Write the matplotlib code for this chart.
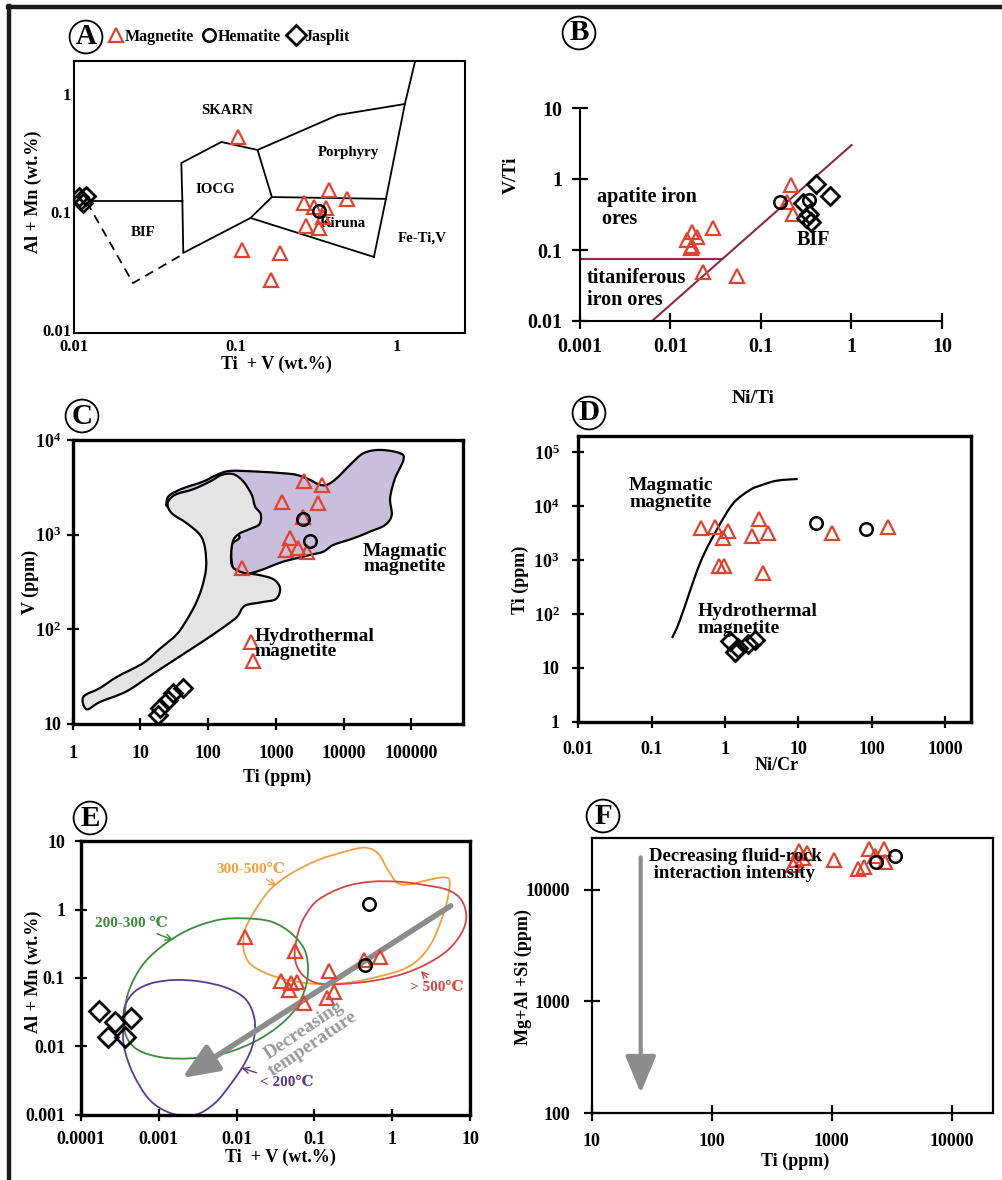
import numpy as np
import matplotlib
matplotlib.use('Agg')
import matplotlib.pyplot as plt
import matplotlib.transforms as mtransforms
from matplotlib.path import Path
from matplotlib.patches import PathPatch
from matplotlib.lines import Line2D
from matplotlib.ticker import FixedLocator, FixedFormatter, NullLocator

plt.rcParams['font.family'] = ['Liberation Serif', 'DejaVu Serif', 'DejaVu Sans']
plt.rcParams['font.weight'] = 'bold'
plt.rcParams['axes.labelweight'] = 'bold'
plt.rcParams['mathtext.fontset'] = 'custom'
plt.rcParams['mathtext.rm'] = 'Liberation Serif:bold'
plt.rcParams['mathtext.it'] = 'Liberation Serif:bold'
plt.rcParams['mathtext.bf'] = 'Liberation Serif:bold'

RED = '#E0432F'
# ---------------- Panel A data ----------------
A_mag_x = [0.103, 0.378, 0.489, 0.265, 0.307, 0.362, 0.346, 0.272, 0.327, 0.110, 0.188, 0.167]
A_mag_y = [0.458, 0.163, 0.137, 0.126, 0.117, 0.115, 0.096, 0.081, 0.078, 0.0505, 0.0477, 0.0281]
A_hem_x = [0.327]
A_hem_y = [0.108]
A_jas_x = [0.0108, 0.0118, 0.0113, 0.0111]
A_jas_y = [0.142, 0.146, 0.127, 0.135]
A_field_lines = [
    ([0.0126, 0.0469], [0.131, 0.131]),
    ([0.0469, 0.0462, 0.0818, 0.137, 0.168, 0.124, 0.0475, 0.0469],
     [0.131, 0.276, 0.416, 0.356, 0.142, 0.0944, 0.0477, 0.131]),
    ([0.137, 0.431, 1.12, 1.30], [0.356, 0.704, 0.873, 2.05]),
    ([1.12, 0.855, 0.72], [0.873, 0.137, 0.0441]),
    ([0.168, 0.855], [0.142, 0.137]),
    ([0.124, 0.72], [0.0944, 0.0441]),
]
A_dash_x = [0.0120, 0.0232, 0.0475]
A_dash_y = [0.129, 0.0265, 0.0467]
A_fields = ['SKARN', 'IOCG', 'BIF', 'Porphyry', 'Kiruna', 'Fe-Ti,V']
A_field_x = [0.089, 0.0752, 0.0268, 0.497, 0.462, 1.43]
A_field_y = [0.776, 0.166, 0.0704, 0.342, 0.0855, 0.0638]

# ---------------- Panel B data ----------------
B_mag_x = [0.214, 0.194, 0.226, 0.0295, 0.0173, 0.0195, 0.0151, 0.0168, 0.0172, 0.0229, 0.0543]
B_mag_y = [0.82, 0.474, 0.32, 0.204, 0.179, 0.152, 0.138, 0.107, 0.115, 0.049, 0.043]
B_hem_x = [0.162, 0.34]
B_hem_y = [0.474, 0.50]
B_jas_x = [0.405, 0.58, 0.29, 0.315, 0.36, 0.34]
B_jas_y = [0.85, 0.576, 0.46, 0.28, 0.25, 0.32]
B_hline_x = [0.001, 0.037]
B_hline_y = [0.075, 0.075]
B_diag_x = [0.00625, 1.0]
B_diag_y = [0.01, 3.0]

# ---------------- Panel C data (field outlines as log10 values) ----------------
C_hyd_lx = [0.157, 0.403, 0.650, 1.043, 1.290, 1.536, 1.683, 1.807, 1.905, 1.969, 1.954, 1.880,
            1.683, 1.462, 1.403, 1.511, 1.782, 2.028, 2.200, 2.373, 2.520, 2.644, 2.693, 2.777,
            2.757, 2.619, 2.447, 2.358, 2.348, 2.496, 2.742, 2.964, 3.062, 3.003, 2.791, 2.545,
            2.447, 2.373, 2.077, 1.683, 1.191, 0.797, 0.403, 0.206]
C_hyd_ly = [1.282, 1.376, 1.493, 1.641, 1.793, 1.944, 2.096, 2.255, 2.432, 2.643, 2.855, 2.996,
            3.120, 3.226, 3.331, 3.420, 3.480, 3.561, 3.631, 3.638, 3.561, 3.420, 3.296, 3.215,
            3.109, 3.059, 3.003, 2.908, 2.678, 2.601, 2.573, 2.527, 2.432, 2.319, 2.284, 2.248,
            2.149, 2.096, 1.944, 1.758, 1.529, 1.342, 1.229, 1.151]
C_mag_field_lx = [1.388, 1.437, 1.634, 1.930, 2.127, 2.323, 2.717, 3.111, 3.308, 3.505, 3.628,
                  3.751, 3.899, 4.096, 4.293, 4.539, 4.835, 4.884, 4.761, 4.687, 4.711, 4.613,
                  4.392, 4.145, 3.850, 3.702, 3.505, 3.308, 3.111, 2.914, 2.717, 2.520, 2.397,
                  2.348, 2.348, 2.447, 1.930, 1.437]
C_mag_field_ly = [3.349, 3.420, 3.490, 3.561, 3.631, 3.673, 3.666, 3.648, 3.631, 3.578, 3.532,
                  3.525, 3.596, 3.737, 3.860, 3.895, 3.860, 3.789, 3.596, 3.384, 3.207, 3.101,
                  3.031, 2.960, 2.890, 2.819, 2.784, 2.749, 2.714, 2.661, 2.608, 2.580, 2.608,
                  2.714, 2.890, 2.996, 3.173, 3.279]
C_mag_x = [2640, 4760, 1250, 4250, 2550, 1620, 1420, 2150, 2860, 313, 430, 466]
C_mag_y = [3720, 3350, 2230, 2140, 1550, 914, 687, 716, 659, 440, 73.6, 45.9]
C_hem_x = [2550, 3210]
C_hem_y = [1460, 855]
C_jas_x = [41.9, 30.3, 25.6, 19.5, 18.2]
C_jas_y = [23.8, 21.1, 17.8, 14.6, 12.3]

# ---------------- Panel D data ----------------
D_curve_x = [0.190, 0.244, 0.457, 0.773, 1.30, 2.20, 3.01, 5.09, 9.84]
D_curve_y = [35.9, 77.4, 873, 3620, 11300, 20000, 24000, 29700, 32000]
D_mag_x = [0.472, 0.733, 1.09, 0.933, 2.94, 2.32, 3.91, 29.2, 166, 0.84, 0.97, 3.28]
D_mag_y = [3940, 4110, 3470, 2540, 5710, 2800, 3220, 3220, 4170, 777, 777, 569]
D_hem_x = [17.5, 83.4]
D_hem_y = [4940, 3730]
D_jas_x = [1.17, 1.50, 2.06, 2.57, 1.37]
D_jas_y = [31.6, 23.4, 27.8, 32.9, 19.7]

# ---------------- Panel E data (temperature fields as log10 values) ----------------
E_orange_lx = [-1.896, -1.811, -1.704, -1.554, -1.297, -0.954, -0.611, -0.354, -0.183, -0.054, 0.075,
               0.246, 0.460, 0.674, 0.739, 0.709, 0.632, 0.503, 0.332, 0.117, -0.183, -0.525,
               -0.825, -1.082, -1.382, -1.639, -1.832, -1.909, -1.909]
E_orange_ly = [-0.297, -0.102, 0.093, 0.313, 0.532, 0.727, 0.849, 0.908, 0.825, 0.581, 0.386,
               0.376, 0.435, 0.474, 0.411, 0.142, -0.151, -0.492, -0.736, -0.883, -0.981, -1.064,
               -1.088, -1.078, -1.020, -0.922, -0.785, -0.590, -0.419]
E_red_lx = [-1.254, -1.211, -1.125, -0.954, -0.611, -0.268, 0.075, 0.417, 0.717, 0.889, 0.953,
            0.889, 0.717, 0.460, 0.160, -0.183, -0.525, -0.868, -1.082, -1.211]
E_red_ly = [-0.639, -0.346, -0.102, 0.142, 0.337, 0.410, 0.410, 0.361, 0.288, 0.142, -0.102,
            -0.346, -0.590, -0.785, -0.932, -1.029, -1.078, -1.093, -1.020, -0.859]
E_green_lx = [-3.439, -3.396, -3.224, -2.967, -2.625, -2.239, -1.896, -1.554, -1.297, -1.125,
              -1.082, -1.125, -1.254, -1.468, -1.768, -2.153, -2.582, -2.967, -3.267, -3.417]
E_green_ly = [-1.615, -1.225, -0.834, -0.541, -0.298, -0.151, -0.127, -0.175, -0.346, -0.590,
              -0.883, -1.176, -1.469, -1.712, -1.932, -2.103, -2.176, -2.161, -2.054, -1.859]
E_purple_lx = [-3.434, -3.310, -3.096, -2.796, -2.453, -2.111, -1.875, -1.768, -1.789, -1.896,
               -2.068, -2.282, -2.539, -2.839, -3.117, -3.332, -3.447, -3.456]
E_purple_ly = [-1.405, -1.200, -1.078, -1.029, -1.054, -1.151, -1.322, -1.615, -1.957, -2.249,
               -2.542, -2.835, -3.006, -2.982, -2.786, -2.396, -2.006, -1.664]
E_mag_x = [0.0127, 0.0569, 0.0376, 0.0505, 0.0603, 0.0467, 0.0728, 0.154, 0.147, 0.179, 0.690, 0.43]
E_mag_y = [0.403, 0.248, 0.0904, 0.0836, 0.0864, 0.0667, 0.0435, 0.128, 0.0505, 0.0618, 0.205, 0.183]
E_hem_x = [0.503, 0.443]
E_hem_y = [1.21, 0.155]
E_jas_x = [0.000169, 0.000276, 0.000444, 0.000222, 0.000365]
E_jas_y = [0.0332, 0.0224, 0.0257, 0.0138, 0.0138]
E_arrow_start = (5.65, 1.14)
E_arrow_tip = (0.00199, 0.00343)

# ---------------- Panel F data ----------------
F_mag_x = [479, 529, 572, 619, 508, 1040, 1650, 1870, 2040, 2310, 2730, 2790]
F_mag_y = [16700, 22100, 19200, 21100, 18300, 18300, 15200, 16000, 23200, 20100, 23200, 17500]
F_hem_x = [2360, 3370]
F_hem_y = [17500, 20100]
F_arrow_start = (25.6, 19400)
F_arrow_tip = (25.6, 151)

# ================= drawing =================
W, H = 1003, 1180
fig = plt.figure(figsize=(W / 100, H / 100), dpi=100)
fig.patch.set_facecolor('white')


def add_ax(x0, y0, x1, y1):
    return fig.add_axes([x0 / W, 1 - y1 / H, (x1 - x0) / W, (y1 - y0) / H])


def fx(x):
    return x / W


def fy(y):
    return 1 - y / H


def setup(ax, xlim, ylim, xt, xl, yt, yl, fs=13, slw=2.0, tlen=9, xpad=6, ypad=6):
    ax.set_xscale('log')
    ax.set_yscale('log')
    ax.set_xlim(*xlim)
    ax.set_ylim(*ylim)
    ax.xaxis.set_major_locator(FixedLocator(xt))
    ax.xaxis.set_major_formatter(FixedFormatter(xl))
    ax.yaxis.set_major_locator(FixedLocator(yt))
    ax.yaxis.set_major_formatter(FixedFormatter(yl))
    ax.xaxis.set_minor_locator(NullLocator())
    ax.yaxis.set_minor_locator(NullLocator())
    ax.tick_params(which='major', direction='inout', length=tlen, width=1.6, labelsize=fs)
    ax.tick_params(axis='x', pad=xpad)
    ax.tick_params(axis='y', pad=ypad)
    for s in ax.spines.values():
        s.set_linewidth(slw)
    for lab in ax.get_xticklabels() + ax.get_yticklabels():
        lab.set_fontweight('bold')


def smooth_path(lx, ly, closed=True):
    P = np.column_stack([lx, ly]).astype(float)
    n = len(P)
    verts = [P[0]]
    codes = [Path.MOVETO]
    rng = range(n) if closed else range(n - 1)
    for i in rng:
        if closed:
            p0, p1, p2, p3 = P[(i - 1) % n], P[i], P[(i + 1) % n], P[(i + 2) % n]
        else:
            p0 = P[max(i - 1, 0)]
            p1 = P[i]
            p2 = P[i + 1]
            p3 = P[min(i + 2, n - 1)]
        verts += [p1 + (p2 - p0) / 6.0, p2 - (p3 - p1) / 6.0, p2]
        codes += [Path.CURVE4] * 3
    return Path(np.power(10.0, np.array(verts)), codes)


def mag(ax, x, y, ms=9.5):
    ax.plot(x, y, ls='none', marker='^', ms=ms, mfc='none', mec=RED, mew=1.6, zorder=5)


def hem(ax, x, y, ms=9):
    ax.plot(x, y, ls='none', marker='o', ms=ms, mfc='none', mec='black', mew=1.8, zorder=6)


def jas(ax, x, y, ms=9.5):
    ax.plot(x, y, ls='none', marker='D', ms=ms, mfc='none', mec='black', mew=2.0, zorder=6)


def circ(x, y, s):
    fig.text(fx(x), fy(y), s, ha='center', va='center', fontsize=21, fontweight='bold',
             bbox=dict(boxstyle='circle,pad=0.1', fc='none', ec='black', lw=1.3))


# outer frame
fig.add_artist(Line2D([fx(8), 1.0], [fy(7), fy(7)], transform=fig.transFigure, color='#1a1a1a', lw=3.2))
fig.add_artist(Line2D([fx(9.5), fx(9.5)], [0.0, fy(5.5)], transform=fig.transFigure, color='#1a1a1a', lw=3.2))

# ---------------- Panel A ----------------
axA = add_ax(74, 61, 465, 333)
setup(axA, (0.01, 2.64), (0.01, 2.02), [0.01, 0.1, 1], ['0.01', '0.1', '1'],
      [0.01, 0.1, 1], ['0.01', '0.1', '1'], fs=12, slw=1.5, tlen=0, xpad=4, ypad=2)
_up = mtransforms.ScaledTranslation(0, 3 / 100, fig.dpi_scale_trans)
for lab in axA.get_yticklabels():
    lab.set_transform(lab.get_transform() + _up)
for xs, ys in A_field_lines:
    axA.plot(xs, ys, color='black', lw=1.3, zorder=2)
axA.plot(A_dash_x, A_dash_y, color='black', lw=1.3, ls=(0, (5, 3.5)), zorder=2)
for name, x, y in zip(A_fields, A_field_x, A_field_y):
    axA.text(x, y, name, ha='center', va='center', fontsize=10.7, fontweight='bold')
mag(axA, A_mag_x, A_mag_y)
hem(axA, A_hem_x, A_hem_y)
jas(axA, A_jas_x, A_jas_y)
fig.text(fx(33), fy(192), 'Al + Mn (wt.%)', rotation=90, ha='center', va='center', fontsize=13)
fig.text(fx(276), fy(364), 'Ti  + V (wt.%)', ha='center', va='center', fontsize=13)
circ(86, 37, 'A')
h1 = Line2D([], [], ls='none', marker='^', ms=10, mfc='none', mec=RED, mew=1.6)
h2 = Line2D([], [], ls='none', marker='o', ms=9, mfc='none', mec='black', mew=1.8)
h3 = Line2D([], [], ls='none', marker='D', ms=10, mfc='none', mec='black', mew=2.0)
fig.legend([h1, h2, h3], ['Magnetite', 'Hematite', 'Jasplit'], ncol=3, frameon=False,
           loc='center left', bbox_to_anchor=(fx(110), fy(37)), fontsize=11.5,
           handlelength=0.7, handletextpad=0.2, columnspacing=0.6, borderaxespad=0, borderpad=0)

# ---------------- Panel B ----------------
axB = add_ax(580, 108, 942, 321)
setup(axB, (0.001, 10), (0.01, 10), [0.001, 0.01, 0.1, 1, 10], ['0.001', '0.01', '0.1', '1', '10'],
      [0.01, 0.1, 1, 10], ['0.01', '0.1', '1', '10'], fs=14.5, slw=1.5, tlen=11, xpad=6, ypad=7)
axB.spines['top'].set_visible(False)
axB.spines['right'].set_visible(False)
axB.plot(B_hline_x, B_hline_y, color='#8E2A45', lw=1.5, zorder=2)
axB.plot(B_diag_x, B_diag_y, color='#8E2A45', lw=1.5, zorder=2, clip_on=False)
axB.text(0.00155, 0.39, 'apatite iron\n ores', ha='left', va='center', fontsize=14.5, linespacing=1.15)
axB.text(0.00119, 0.0282, 'titaniferous\niron ores', ha='left', va='center', fontsize=14.5, linespacing=1.15)
axB.text(0.376, 0.138, 'BIF', ha='center', va='center', fontsize=14.5)
mag(axB, B_mag_x, B_mag_y)
hem(axB, B_hem_x, B_hem_y)
jas(axB, B_jas_x, B_jas_y)
fig.text(fx(511), fy(175), 'V/Ti', rotation=90, ha='center', va='center', fontsize=14)
fig.text(fx(753), fy(399), 'Ni/Ti', ha='center', va='center', fontsize=14)
circ(579, 33, 'B')

# ---------------- Panel C ----------------
axC = add_ax(72.7, 440, 463, 723.6)
setup(axC, (1, 5.8e5), (10, 1e4), [1, 10, 100, 1000, 1e4, 1e5],
      ['1', '10', '100', '1000', '10000', '100000'],
      [10, 100, 1000, 1e4], ['10', r'$10^{2}$', r'$10^{3}$', r'$10^{4}$'],
      fs=13, slw=2.4, tlen=9, xpad=11, ypad=4)
axC.add_patch(PathPatch(smooth_path(C_mag_field_lx, C_mag_field_ly), fc='#C9BEDC', ec='black', lw=1.6, zorder=1))
axC.add_patch(PathPatch(smooth_path(C_hyd_lx, C_hyd_ly), fc='#E4E4E4', ec='black', lw=1.6, zorder=2))
mag(axC, C_mag_x, C_mag_y)
hem(axC, C_hem_x, C_hem_y)
jas(axC, C_jas_x, C_jas_y)
fig.text(fx(405), fy(559), 'Magmatic\nmagnetite', ha='center', va='center', fontsize=14, linespacing=0.9)
fig.text(fx(255), fy(644), 'Hydrothermal\nmagnetite', ha='left', va='center', fontsize=14, linespacing=0.78)
fig.text(fx(30), fy(582), 'V (ppm)', rotation=90, ha='center', va='center', fontsize=13)
fig.text(fx(277), fy(777), 'Ti (ppm)', ha='center', va='center', fontsize=13)
circ(82, 416, 'C')

# ---------------- Panel D ----------------
axD = add_ax(578.3, 435.7, 971, 721.8)
setup(axD, (0.01, 2275), (1, 2.03e5), [0.01, 0.1, 1, 10, 100, 1000],
      ['0.01', '0.1', '1', '10', '100', '1000'],
      [1, 10, 100, 1000, 1e4, 1e5], ['1', '10', r'$10^{2}$', r'$10^{3}$', r'$10^{4}$', r'$10^{5}$'],
      fs=13, slw=2.4, tlen=9, xpad=9, ypad=9)
axD.add_patch(PathPatch(smooth_path(np.log10(D_curve_x), np.log10(D_curve_y), closed=False),
                        fc='none', ec='black', lw=1.6, zorder=2))
mag(axD, D_mag_x, D_mag_y)
hem(axD, D_hem_x, D_hem_y)
jas(axD, D_jas_x, D_jas_y)
fig.text(fx(671), fy(494), 'Magmatic\nmagnetite', ha='center', va='center', fontsize=14, linespacing=0.95)
fig.text(fx(698), fy(620), 'Hydrothermal\nmagnetite', ha='left', va='center', fontsize=14, linespacing=0.95)
fig.text(fx(520), fy(580), 'Ti (ppm)', rotation=90, ha='center', va='center', fontsize=13)
fig.text(fx(777), fy(765), 'Ni/Cr', ha='center', va='center', fontsize=13)
circ(589, 413, 'D')

# ---------------- Panel E ----------------
axE = add_ax(81, 841.4, 470, 1114.6)
setup(axE, (1e-4, 10), (1e-3, 10), [1e-4, 1e-3, 0.01, 0.1, 1, 10],
      ['0.0001', '0.001', '0.01', '0.1', '1', '10'],
      [1e-3, 0.01, 0.1, 1, 10], ['0.001', '0.01', '0.1', '1', '10'],
      fs=13, slw=2.4, tlen=9, xpad=7, ypad=7)
E_fields = [(E_orange_lx, E_orange_ly, '#F0A040'), (E_red_lx, E_red_ly, '#D94545'),
            (E_green_lx, E_green_ly, '#3C8C3C'), (E_purple_lx, E_purple_ly, '#5E3A8E')]
for lx, ly, col in E_fields:
    axE.add_patch(PathPatch(smooth_path(lx, ly), fc='none', ec=col, lw=1.3, zorder=2))
axE.annotate('', xy=E_arrow_tip, xytext=E_arrow_start,
             arrowprops=dict(arrowstyle='-|>,head_length=1.2,head_width=0.5', color='#8C8C8C',
                             lw=4.0, mutation_scale=18, shrinkA=0, shrinkB=0), zorder=3)
mag(axE, E_mag_x, E_mag_y)
hem(axE, E_hem_x, E_hem_y)
jas(axE, E_jas_x, E_jas_y, ms=10.5)
lab_kw = dict(ha='center', va='center', fontsize=11, fontweight='bold')
axE.annotate('300-500℃', xy=(0.0324, 2.22), xytext=(0.01545, 3.91), color='#F0A040',
             arrowprops=dict(arrowstyle='->', color='#F0A040', lw=1.0, shrinkA=1, shrinkB=0), **lab_kw)
axE.annotate('200-300 ℃', xy=(0.00153, 0.36), xytext=(0.000444, 0.618), color='#3C8C3C',
             arrowprops=dict(arrowstyle='->', color='#3C8C3C', lw=1.0, shrinkA=1, shrinkB=0), **lab_kw)
axE.annotate('> 500℃', xy=(2.34, 0.127), xytext=(3.71, 0.0714), color='#D94545',
             arrowprops=dict(arrowstyle='->', color='#D94545', lw=1.0, shrinkA=1, shrinkB=0), **lab_kw)
axE.annotate('< 200℃', xy=(0.01164, 0.00481), xytext=(0.044, 0.00295), color='#5E3A8E',
             arrowprops=dict(arrowstyle='->', color='#5E3A8E', lw=1.0, shrinkA=1, shrinkB=0), **lab_kw)
fig.text(fx(308), fy(1037), 'Decreasing\ntemperature', rotation=34, ha='center', va='center',
         fontsize=14, color='#9A9A9A', linespacing=0.95, rotation_mode='anchor')
fig.text(fx(33), fy(972), 'Al + Mn (wt.%)', rotation=90, ha='center', va='center', fontsize=13)
fig.text(fx(280), fy(1157), 'Ti  + V (wt.%)', ha='center', va='center', fontsize=13)
circ(90, 818, 'E')

# ---------------- Panel F ----------------
axF = add_ax(591.7, 838, 992.7, 1113)
setup(axF, (10, 21970), (100, 28900), [10, 100, 1000, 10000], ['10', '100', '1000', '10000'],
      [100, 1000, 10000], ['100', '1000', '10000'], fs=13, slw=1.6, tlen=11, xpad=9, ypad=10)
axF.annotate('', xy=F_arrow_tip, xytext=F_arrow_start,
             arrowprops=dict(arrowstyle='-|>,head_length=1.2,head_width=0.5', color='#8C8C8C',
                             lw=3.0, mutation_scale=19, shrinkA=0, shrinkB=0), zorder=2)
mag(axF, F_mag_x, F_mag_y)
hem(axF, F_hem_x, F_hem_y)
fig.text(fx(649), fy(865), 'Decreasing fluid-rock\n interaction intensity', ha='left', va='center',
         fontsize=13.5, linespacing=1.0, zorder=4)
fig.text(fx(523), fy(977), 'Mg+Al +Si (ppm)', rotation=90, ha='center', va='center', fontsize=13)
fig.text(fx(795), fy(1161), 'Ti (ppm)', ha='center', va='center', fontsize=13)
circ(603, 816, 'F')

fig.savefig('out.png', dpi=100, facecolor='white')
